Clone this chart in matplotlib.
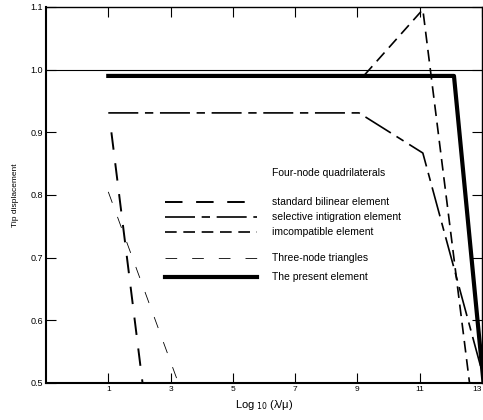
import matplotlib.pyplot as plt

plt.rcParams['font.family'] = ['Liberation Sans', 'DejaVu Sans']

# data (x = log10(lambda/mu), y = tip displacement)
present_x = [1.0, 12.1, 13.05]
present_y = [0.99, 0.99, 0.5]

incompatible_x = [1.0, 9.2, 11.1, 12.6]
incompatible_y = [0.99, 0.99, 1.096, 0.5]

selective_x = [1.0, 9.05, 11.1, 13.1]
selective_y = [0.931, 0.931, 0.867, 0.5]

bilinear_x = [1.1, 2.1]
bilinear_y = [0.9, 0.5]

triangle_x = [1.0, 3.25]
triangle_y = [0.805, 0.5]

x_ticks = [1, 3, 5, 7, 9, 11, 13]
y_ticks = [0.5, 0.6, 0.7, 0.8, 0.9, 1.0, 1.1]

styles = {
    'bilinear': dict(color='black', lw=1.4, dashes=(9, 7)),
    'selective': dict(color='black', lw=1.2, dashes=(18, 4, 5, 4)),
    'incompatible': dict(color='black', lw=1.2, dashes=(7, 4)),
    'triangle': dict(color='black', lw=0.6, dashes=(14, 18)),
    'present': dict(color='black', lw=3.0, solid_joinstyle='round'),
}

fig = plt.figure(figsize=(4.83, 4.2), dpi=100)
ax = fig.add_axes([46 / 483, 37 / 420, 436 / 483, 376 / 420])

ax.axhline(1.0, color='black', lw=0.8)
ax.plot(triangle_x, triangle_y, **styles['triangle'])
ax.plot(bilinear_x, bilinear_y, **styles['bilinear'])
ax.plot(selective_x, selective_y, **styles['selective'])
ax.plot(incompatible_x, incompatible_y, **styles['incompatible'])
ax.plot(present_x, present_y, **styles['present'])

ax.set_xlim(-1, 13)
ax.set_ylim(0.5, 1.1)
ax.set_xticks(x_ticks)
ax.set_xticklabels([str(t) for t in x_ticks], fontsize=6)
ax.get_xticklabels()[-1].set_horizontalalignment('right')
ax.set_yticks(y_ticks)
ax.set_yticklabels([f'{t:.1f}' for t in y_ticks], fontsize=6.5)
ax.tick_params(direction='in', length=7, width=0.8, pad=2,
               top=True, right=True)
ax.spines['left'].set_linewidth(1.5)
ax.spines['bottom'].set_linewidth(1.5)
ax.spines['top'].set_linewidth(1.0)
ax.spines['right'].set_linewidth(1.0)

ax.set_xlabel('Log$_{\\ 10}$ (λ/μ)', fontsize=8, labelpad=4)
ax.set_ylabel('Tip displacement', fontsize=6, labelpad=8)

# hand-drawn key, as in the original figure
ax.text(0.519, 0.559, 'Four-node quadrilaterals', transform=ax.transAxes,
        fontsize=7.5, va='center')
key = [
    ('bilinear', 0.481, 'standard bilinear element'),
    ('selective', 0.441, 'selective intigration element'),
    ('incompatible', 0.402, 'imcompatible element'),
    ('triangle', 0.332, 'Three-node triangles'),
    ('present', 0.282, 'The present element'),
]
for name, y, label in key:
    ax.plot([0.272, 0.483], [y, y], transform=ax.transAxes, **styles[name])
    ax.text(0.519, y, label, transform=ax.transAxes, fontsize=7.5, va='center')

fig.savefig('out.png', dpi=100)
